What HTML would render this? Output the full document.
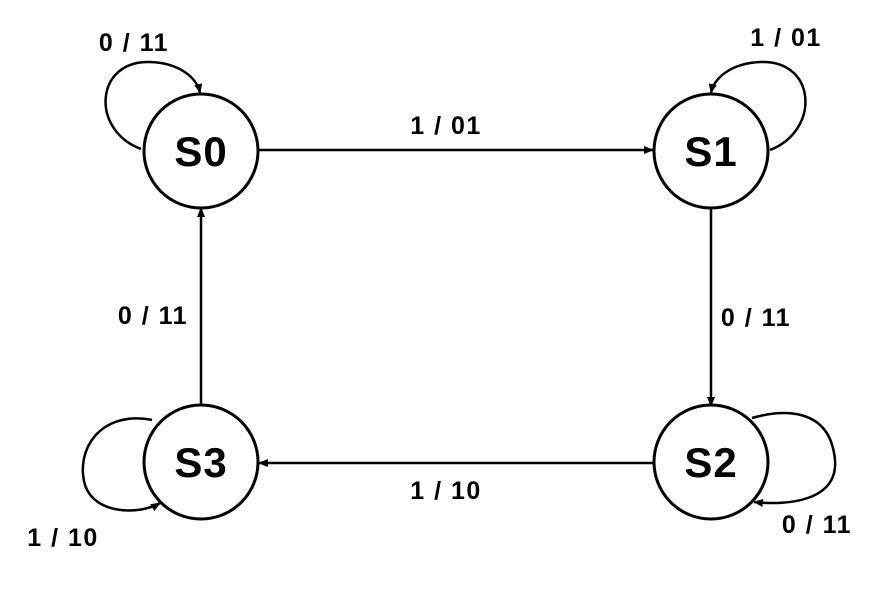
<!DOCTYPE html>
<html><head><style>body{margin:0;background:#fff}</style></head><body>
<svg width="893" height="600" viewBox="0 0 893 600" xmlns="http://www.w3.org/2000/svg" font-family="Liberation Sans, Arial, sans-serif" font-weight="bold">
<defs><marker id="a" markerWidth="10" markerHeight="10" refX="9" refY="5" orient="auto" markerUnits="userSpaceOnUse"><path d="M0,1 L10,5 L0,9 Z" fill="#000"/></marker></defs>
<g fill="none" stroke="#000" stroke-width="2.5">
<line x1="258" y1="150" x2="653" y2="150" marker-end="url(#a)"/>
<line x1="711" y1="207" x2="711" y2="406" marker-end="url(#a)"/>
<line x1="654" y1="463" x2="259" y2="463" marker-end="url(#a)"/>
<line x1="201" y1="407" x2="201" y2="208" marker-end="url(#a)"/>
<path d="M141,149 C90,130 95,60 150,62 C180,63 197,78 200,93" marker-end="url(#a)"/>
<path d="M770,150 C821,130 816,60 761,62 C731,63 714,78 711,93" marker-end="url(#a)"/>
<path d="M752,418 C780,410 830,405 835,460 C838,500 790,506 754,502" marker-end="url(#a)"/>
<path d="M152,420 C100,410 75,450 85,485 C95,515 140,515 160,503" marker-end="url(#a)"/>
</g>
<g fill="#fff" stroke="#000" stroke-width="3">
<circle cx="201" cy="151" r="57"/><circle cx="711" cy="151" r="57"/>
<circle cx="711" cy="462" r="57"/><circle cx="201" cy="462" r="57"/>
</g>
<g font-size="42" text-anchor="middle" letter-spacing="1">
<text x="201" y="166">S0</text><text x="711" y="166">S1</text>
<text x="711" y="477">S2</text><text x="201" y="477">S3</text>
</g>
<g font-size="25" text-anchor="middle" letter-spacing="1.5">
<text x="134" y="51">0 / 11</text>
<text x="446" y="134">1 / 01</text>
<text x="786" y="46">1 / 01</text>
<text x="756" y="326">0 / 11</text>
<text x="153" y="324">0 / 11</text>
<text x="446" y="499">1 / 10</text>
<text x="63" y="546">1 / 10</text>
<text x="817" y="533">0 / 11</text>
</g>
</svg>
</body></html>
